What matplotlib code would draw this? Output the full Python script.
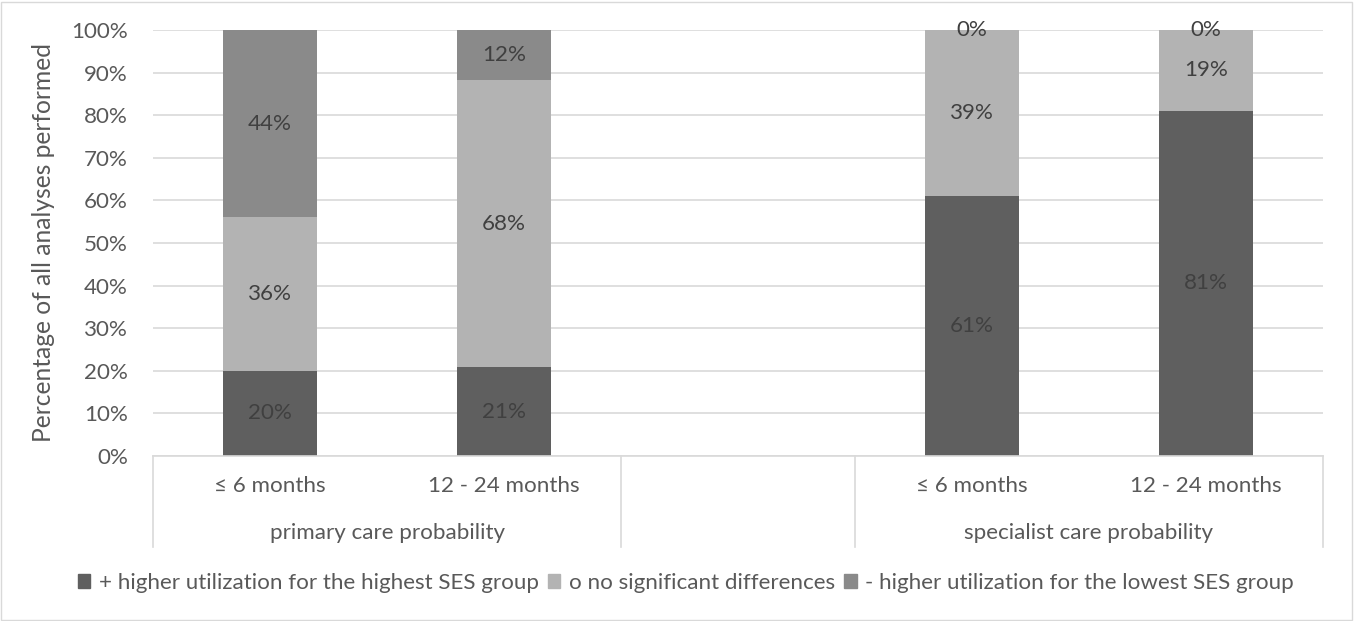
import matplotlib.pyplot as plt
from matplotlib.patches import Patch, Rectangle
from matplotlib.font_manager import FontProperties
from matplotlib.textpath import TextPath
import numpy as np

plt.rcParams['font.family'] = ['Lato', 'DejaVu Sans']

# slots: two primary care bars, an empty gap slot, two specialist care bars
periods = ["≤ 6 months", "12 - 24 months", "", "≤ 6 months", "12 - 24 months"]
groups = ["primary care probability", "specialist care probability"]
series = ["+ higher utilization for the highest SES group",
          "o no significant differences",
          "- higher utilization for the lowest SES group"]
plus_vals = [20, 20.8, np.nan, 61, 81]
none_vals = [36, 67.5, np.nan, 39, 19]
minus_vals = [44, 11.7, np.nan, 0, 0]

colors = ["#5f5f5f", "#b3b3b3", "#8a8a8a"]
txt = "#595959"

# size the font so "primary care probability" is ~232 px wide, as in the original
w10 = TextPath((0, 0), groups[0], size=10, prop=FontProperties(family="Lato")).get_extents().width
fs = round(232 * 10 * 72 / (100 * w10), 1)

fig = plt.figure(figsize=(13.55, 6.21), dpi=100)
fig.patches.append(Rectangle((0.001, 0.002), 0.997, 0.995, transform=fig.transFigure,
                             fill=False, edgecolor="#d9d9d9", linewidth=1))
W, H = 1355, 621
ax = fig.add_axes([153 / W, (H - 456) / H, 1170 / W, 426 / H])

x = np.arange(len(periods))
bottom = np.zeros(len(periods))
for vals, col, name in zip([plus_vals, none_vals, minus_vals], colors, series):
    v = np.array(vals, dtype=float)
    bars = ax.bar(x, np.nan_to_num(v), bottom=bottom, width=0.4, color=col, label=name)
    labels = ["" if np.isnan(a) else f"{a:.0f}%" for a in v]
    ax.bar_label(bars, labels=labels, label_type="center", color="#404040", fontsize=fs)
    bottom = bottom + np.nan_to_num(v)

ax.set_xlim(-0.5, len(periods) - 0.5)
ax.set_ylim(0, 100)
ax.set_yticks(np.arange(0, 101, 10))
ax.set_yticklabels([f"{t}%" for t in range(0, 101, 10)], color=txt, fontsize=fs)
ax.yaxis.grid(True, color="#d9d9d9", linewidth=1.2)
ax.set_axisbelow(True)
for s in ["top", "right", "left"]:
    ax.spines[s].set_visible(False)
ax.spines["bottom"].set_color("#d9d9d9")
ax.spines["bottom"].set_linewidth(1.2)
ax.tick_params(axis="both", length=0, pad=18)
ax.set_xticks([])
ax.set_ylabel("Percentage of all analyses performed", color=txt, fontsize=fs * 1.1)
ax.yaxis.set_label_coords((55 - 153) / 1170, 0.5)

# hierarchical category axis
tr = ax.get_xaxis_transform()
for b in [-0.5, 1.5, 2.5, 4.5]:
    ax.plot([b, b], [0, -(547 - 456) / 426], transform=tr, color="#d9d9d9", lw=1.2, clip_on=False)
for xi, p in zip(x, periods):
    ax.text(xi, -(486 - 456) / 426, p, transform=tr, ha="center", va="center", color=txt, fontsize=fs)
ax.text(0.5, -(533 - 456) / 426, groups[0], transform=tr, ha="center", va="center", color=txt, fontsize=fs)
ax.text(3.5, -(533 - 456) / 426, groups[1], transform=tr, ha="center", va="center", color=txt, fontsize=fs)

handles = [Patch(color=c) for c in colors]
fig.legend(handles, series, loc="center", bbox_to_anchor=(686 / W, 1 - 583 / H), ncol=3,
           frameon=False, fontsize=fs, handlelength=0.55, handleheight=0.55,
           handletextpad=0.4, columnspacing=0.4, labelcolor=txt)

fig.savefig("out.png", dpi=100)
